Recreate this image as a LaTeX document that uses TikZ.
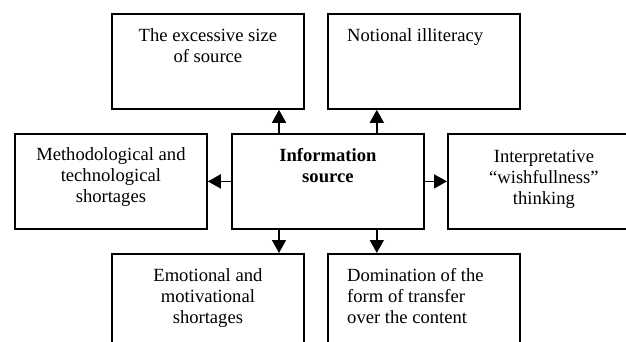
\documentclass[tikz,border=0pt]{standalone}
\usepackage{fontspec}
\setmainfont{Liberation Serif}
\usetikzlibrary{arrows.meta}
\begin{document}
\begin{tikzpicture}[x=1pt,y=-1pt,
  box/.style={draw, line width=1.8pt, minimum width=192pt, minimum height=95pt,
              anchor=north west, inner sep=0pt},
  txt/.style={anchor=north, align=center, inner sep=0pt,
              font=\fontsize{18.6}{21}\selectfont},
  ltxt/.style={anchor=north west, align=left, inner sep=0pt,
               font=\fontsize{18.6}{21}\selectfont},
  arr/.style={line width=1.6pt, -{Triangle[length=13pt,width=14pt]}}
]
\useasboundingbox (0,0) rectangle (626,342);
\clip (0,0) rectangle (626,342);

% boxes
\node[box] (tl) at (111,13) {};
\node[box] (tr) at (327,13) {};
\node[box] (ml) at (14,133) {};
\node[box] (c)  at (231,133) {};
\node[box] (mr) at (447,133) {};
\node[box] (bl) at (111,253) {};
\node[box] (br) at (327,253) {};

% texts
\node[txt]  (tlt) at ([yshift=-15.5pt]tl.north) {The excessive size\\of source};
\node[ltxt] (trt) at ([xshift=20pt,yshift=-15.5pt]tr.north west) {Notional illiteracy};
\node[txt]  (mlt) at ([yshift=-14.5pt]ml.north) {Methodological and\\technological\\shortages};
\node[txt,font=\fontsize{18.6}{21}\selectfont\bfseries] (ct) at ([yshift=-15.5pt]c.north) {Information\\source};
\node[txt]  (mrt) at ([yshift=-16.5pt]mr.north) {Interpretative\\“wishfullness”\\thinking};
\node[txt]  (blt) at ([yshift=-15.5pt]bl.north) {Emotional and\\motivational\\shortages};
\node[ltxt] (brt) at ([xshift=20pt,yshift=-15.5pt]br.north west) {Domination of the\\form of transfer\\over the content};

% arrows from the source
\draw[arr] ([xshift=48pt]c.north west) -- ([xshift=48pt]c.north west |- tl.south);
\draw[arr] ([xshift=-48pt]c.north east) -- ([xshift=-48pt]c.north east |- tr.south);
\draw[arr] (c.west) -- (ml.east);
\draw[arr] (c.east) -- (mr.west);
\draw[arr] ([xshift=48pt]c.south west) -- ([xshift=48pt]c.south west |- bl.north);
\draw[arr] ([xshift=-48pt]c.south east) -- ([xshift=-48pt]c.south east |- br.north);
\end{tikzpicture}
\end{document}
